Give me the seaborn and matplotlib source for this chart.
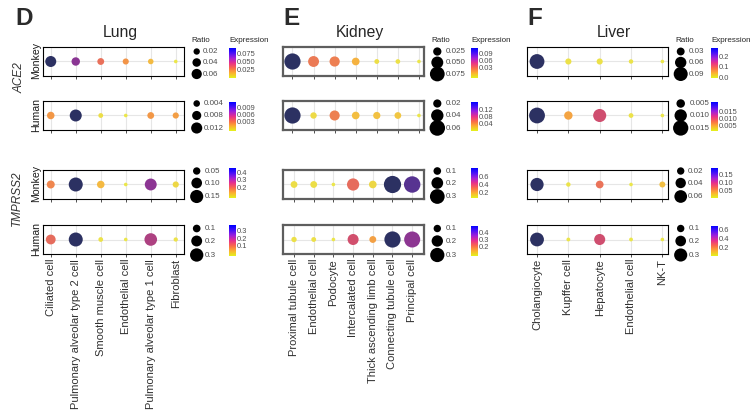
import numpy as np
import pandas as pd
import matplotlib
matplotlib.use('Agg')
import matplotlib.pyplot as plt
import seaborn as sns
from matplotlib.colors import LinearSegmentedColormap, Normalize
from matplotlib.cm import ScalarMappable

sns.set_style('white')
plt.rcParams['font.family'] = ['Liberation Sans', 'DejaVu Sans']

W, H = 756, 419

# ---------------- data ----------------
row_species = ['Monkey', 'Human', 'Monkey', 'Human']
genes = ['ACE2', 'TMPRSS2']

lung_cells = ['Ciliated cell', 'Pulmonary alveolar type 2 cell', 'Smooth muscle cell',
              'Endothelial cell', 'Pulmonary alveolar type 1 cell', 'Fibroblast']
lung_ratio = [[0.07, 0.039, 0.024, 0.018, 0.014, 0.003],
              [0.0053, 0.014, 0.002, 0.001, 0.0043, 0.0035],
              [0.058, 0.17, 0.052, 0.015, 0.124, 0.036],
              [0.163, 0.33, 0.039, 0.023, 0.268, 0.032]]
lung_expr = [[0.09, 0.073, 0.045, 0.033, 0.02, 0.003],
             [0.0045, 0.0125, 0.0012, 0.0005, 0.0045, 0.0042],
             [0.21, 0.45, 0.13, 0.05, 0.37, 0.09],
             [0.195, 0.37, 0.03, 0.02, 0.27, 0.03]]
lung_ratio_breaks = [['0.02', '0.04', '0.06'], ['0.004', '0.008', '0.012'],
                     ['0.05', '0.10', '0.15'], ['0.1', '0.2', '0.3']]
lung_expr_breaks = [['0.025', '0.050', '0.075'], ['0.003', '0.006', '0.009'],
                    ['0.2', '0.3', '0.4'], ['0.1', '0.2', '0.3']]
lung_bar_range = [(0.0, 0.092), (-0.0009, 0.0115), (0.05, 0.46), (-0.04, 0.37)]

kidney_cells = ['Proximal tubule cell', 'Endothelial cell', 'Podocyte', 'Intercalated cell',
                'Thick ascending limb cell', 'Connecting tubule cell', 'Principal cell']
kidney_ratio = [[0.09, 0.042, 0.037, 0.022, 0.010, 0.0095, 0.0065],
                [0.065, 0.014, 0.028, 0.018, 0.0165, 0.015, 0.0075],
                [0.085, 0.085, 0.043, 0.215, 0.10, 0.40, 0.367],
                [0.065, 0.058, 0.044, 0.19, 0.09, 0.38, 0.373]]
kidney_expr = [[0.10, 0.047, 0.045, 0.025, 0.009, 0.007, 0.004],
               [0.14, 0.016, 0.062, 0.03, 0.029, 0.027, 0.005],
               [0.07, 0.065, 0.03, 0.355, 0.095, 0.68, 0.615],
               [0.05, 0.05, 0.03, 0.30, 0.16, 0.47, 0.38]]
kidney_ratio_breaks = [['0.025', '0.050', '0.075'], ['0.02', '0.04', '0.06'],
                       ['0.1', '0.2', '0.3'], ['0.1', '0.2', '0.3']]
kidney_expr_breaks = [['0.03', '0.06', '0.09'], ['0.04', '0.08', '0.12'],
                      ['0.2', '0.4', '0.6'], ['0.2', '0.3', '0.4']]
kidney_bar_range = [(-0.017, 0.112), (0.0005, 0.16), (0.068, 0.798), (0.07, 0.49)]

liver_cells = ['Cholangiocyte', 'Kupffer cell', 'Hepatocyte', 'Endothelial cell', 'NK-T']
liver_ratio = [[0.10, 0.019, 0.019, 0.011, 0.008],
               [0.016, 0.0049, 0.0111, 0.0019, 0.0013],
               [0.065, 0.007, 0.022, 0.0045, 0.013],
               [0.33, 0.032, 0.215, 0.032, 0.029]]
liver_expr = [[0.25, 0.01, 0.01, 0.007, 0.002],
              [0.019, 0.0057, 0.012, 0.001, 0.0005],
              [0.18, 0.008, 0.087, 0.004, 0.036],
              [0.66, 0.03, 0.42, 0.02, 0.02]]
liver_ratio_breaks = [['0.03', '0.06', '0.09'], ['0.005', '0.010', '0.015'],
                      ['0.02', '0.04', '0.06'], ['0.1', '0.2', '0.3']]
liver_expr_breaks = [['0.0', '0.1', '0.2'], ['0.005', '0.010', '0.015'],
                     ['0.05', '0.10', '0.15'], ['0.2', '0.4', '0.6']]
liver_bar_range = [(-0.006, 0.281), (0.001, 0.022), (0.0045, 0.19), (0.022, 0.689)]

tissues = [
    dict(name='Lung', letter='D', cells=lung_cells, ratio=lung_ratio, expr=lung_expr,
         rb=lung_ratio_breaks, eb=lung_expr_breaks, bar=lung_bar_range),
    dict(name='Kidney', letter='E', cells=kidney_cells, ratio=kidney_ratio, expr=kidney_expr,
         rb=kidney_ratio_breaks, eb=kidney_expr_breaks, bar=kidney_bar_range),
    dict(name='Liver', letter='F', cells=liver_cells, ratio=liver_ratio, expr=liver_expr,
         rb=liver_ratio_breaks, eb=liver_expr_breaks, bar=liver_bar_range),
]

# ---------------- layout / style ----------------
box_x = [(43, 184), (283, 424), (527, 668)]
row_y = [(47, 76), (101, 130), (170, 199), (225, 254)]
xlims = [[(-0.31, 5.33)] * 4,
         [(-0.45, 6.24), (-0.45, 6.24), (-0.56, 6.6), (-0.56, 6.6)],
         [(-0.32, 4.18)] * 4]
dmax = [[11.0, 12.0, 14.0, 14.0], [16.2, 16.2, 17.2, 16.2], [14.8, 15.8, 13.2, 13.8]]
dmin = 3.6
border = [('black', 0.8), ('#5e5e5e', 1.6), ('black', 0.8)]
letter_x = [15, 283, 527]
title_cx = [120, 360, 614]
leg_cx = [196.7, 437.3, 680.7]
bar_x0 = [229, 471, 711]
leg_y = [(51.5, 62.5, 74), (103.5, 115.5, 128), (171, 183, 196.5), (228.5, 241, 255)]
bar_y = [(48, 78), (102, 131), (168, 198), (225.5, 256)]

dot_cmap = LinearSegmentedColormap.from_list('dots', [
    (0.0, '#ebe64a'), (0.12, '#eed444'), (0.22, '#f5b240'), (0.35, '#f29347'),
    (0.48, '#e9715a'), (0.62, '#d04e6e'), (0.8, '#8c3593'), (0.9, '#583392'),
    (1.0, '#2c3162')])
bar_cmap = LinearSegmentedColormap.from_list('bar', [
    '#e4f21c', '#fbb030', '#fa6a4a', '#e8308a', '#a020d8', '#4a10f8', '#0000ff'])


def px(x0, y0, x1, y1):
    return [x0 / W, 1 - y1 / H, (x1 - x0) / W, (y1 - y0) / H]


def area(d):
    # marker area in pt^2 for a diameter in pixels (dpi 100)
    return (d * 0.72) ** 2


fig = plt.figure(figsize=(W / 100, H / 100), dpi=100)
ov = fig.add_axes([0, 0, 1, 1])
ov.set_xlim(0, W)
ov.set_ylim(H, 0)
ov.axis('off')

text_dark = '#262626'
leg_col = '#4d4d4d'

for ti, t in enumerate(tissues):
    ov.text(letter_x[ti], 25, t['letter'], fontsize=17.5, fontweight='bold',
            color='#2b2b2b', va='baseline', ha='left')
    ov.text(title_cx[ti], 37, t['name'], fontsize=11.3, color=text_dark,
            va='baseline', ha='center')
    n = len(t['cells'])
    for ri in range(4):
        r = t['ratio'][ri]
        e = t['expr'][ri]
        y0, y1 = row_y[ri]
        ax = fig.add_axes(px(box_x[ti][0], y0, box_x[ti][1], y1))
        df = pd.DataFrame({'pos': np.arange(n), 'y': 0.0, 'ratio': r, 'expr': e})
        a0, a1 = area(dmin), area(dmax[ti][ri])
        sns.scatterplot(data=df, x='pos', y='y', size='ratio', hue='expr',
                        sizes=(a0, a1), size_norm=(min(r), max(r)),
                        palette=dot_cmap, hue_norm=(min(e), max(e)),
                        linewidth=0, legend=False, ax=ax, zorder=3)
        ax.set_xlim(*xlims[ti][ri])
        ax.set_ylim(-1, 1)
        ax.set_xlabel('')
        ax.set_ylabel('')
        ax.set_xticks(np.arange(n))
        ax.set_yticks([0])
        ax.set_axisbelow(True)
        ax.grid(True, color='#e6e6e6', lw=0.8)
        ax.tick_params(axis='y', length=0, labelleft=False)
        ax.tick_params(axis='x', length=2.3, width=0.6, color='#333333', pad=1.2,
                       bottom=True)
        if ri == 3:
            ax.set_xticklabels(t['cells'], rotation=90, fontsize=8, color='#303030')
        else:
            ax.set_xticklabels([])
        for sp in ax.spines.values():
            sp.set_color(border[ti][0])
            sp.set_linewidth(border[ti][1])

        # size legend
        breaks = [float(b) for b in t['rb'][ri]]
        sns.scatterplot(x=[leg_cx[ti]] * 3, y=list(leg_y[ri]), size=breaks,
                        sizes=(a0, a1), size_norm=(min(r), max(r)), color='black',
                        linewidth=0, legend=False, ax=ov, zorder=4)
        rad = (a0 + (a1 - a0) * (breaks[-1] - min(r)) / (max(r) - min(r))) ** 0.5 / 0.72 / 2
        for b, yy in zip(t['rb'][ri], leg_y[ri]):
            ov.text(leg_cx[ti] + rad + 1.0, yy, b, fontsize=5.8, color=leg_col,
                    va='center', ha='left')

        # colour bar
        by0, by1 = bar_y[ri]
        cax = fig.add_axes(px(bar_x0[ti], by0, bar_x0[ti] + 6.5, by1))
        lo, hi = t['bar'][ri]
        sm = ScalarMappable(norm=Normalize(lo, hi), cmap=bar_cmap)
        ticks = [float(b) for b in t['eb'][ri]]
        cb = fig.colorbar(sm, cax=cax, ticks=ticks)
        cb.outline.set_visible(False)
        cb.set_ticklabels(t['eb'][ri])
        cax.tick_params(length=1.8, width=0.7, color='white', direction='in', pad=1.2,
                        labelsize=5.4, labelcolor=leg_col, left=True, right=True,
                        labelleft=False, labelright=True)

        if ri == 0:
            ov.text(leg_cx[ti] - 5.7, 41, 'Ratio', fontsize=5.8, color=text_dark,
                    va='center', ha='left')
            ov.text(bar_x0[ti], 41, 'Expression', fontsize=5.8, color=text_dark,
                    va='center', ha='left')

        if ti == 0:
            ov.text(36, (y0 + y1) / 2 - 1, row_species[ri], rotation=90, fontsize=7.6,
                    color='#1a1a1a', ha='center', va='center')

ov.text(20, 77.5, genes[0], rotation=90, fontsize=8.5, style='italic',
        color='#333333', ha='center', va='center')
ov.text(17, 198.5, genes[1], rotation=90, fontsize=8.5, style='italic',
        color='#333333', ha='center', va='center')

fig.savefig('out.png', dpi=100)
